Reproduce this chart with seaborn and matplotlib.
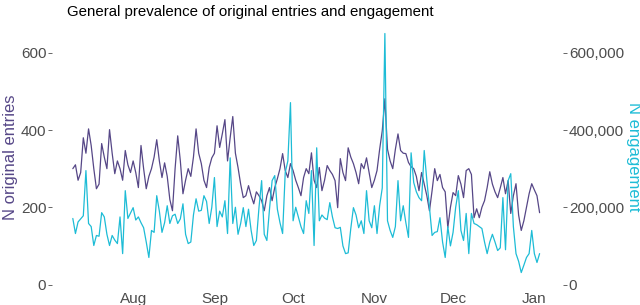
import numpy as np
import pandas as pd
import seaborn as sns
import matplotlib.pyplot as plt
import matplotlib.dates as mdates
from matplotlib.ticker import FuncFormatter

# daily values, 9 Jul to 3 Jan
start_date = "2021-07-09"

original_entries = [
    300, 310, 270, 290, 380, 340, 403, 360, 300, 248, 260, 365, 330, 300, 401, 340,
    287, 320, 300, 270, 347, 310, 290, 320, 290, 251, 360, 300, 248, 280, 300, 330,
    375, 320, 277, 315, 280, 220, 191, 300, 385, 320, 235, 270, 300, 280, 330, 403,
    340, 313, 270, 251, 303, 328, 340, 411, 355, 390, 427, 320, 380, 435, 340, 303,
    260, 225, 230, 256, 230, 209, 240, 230, 217, 191, 230, 251, 217, 251, 274, 300,
    339, 295, 277, 313, 295, 270, 251, 230, 277, 300, 287, 341, 270, 251, 303, 243,
    270, 308, 295, 285, 269, 199, 326, 290, 269, 354, 330, 313, 290, 261, 313, 300,
    328, 290, 251, 270, 295, 350, 398, 481, 350, 320, 300, 350, 390, 347, 340, 339,
    316, 305, 300, 280, 243, 290, 260, 230, 191, 243, 300, 269, 285, 251, 240, 147,
    200, 238, 230, 282, 260, 225, 295, 300, 285, 173, 196, 173, 200, 217, 251, 292,
    260, 240, 225, 250, 277, 235, 269, 184, 230, 261, 180, 140, 165, 200, 235, 261,
    245, 230, 186,
]

engagement = [
    171, 132, 162, 170, 178, 295, 158, 150, 101, 127, 125, 186, 175, 130, 101, 127,
    115, 106, 175, 80, 243, 171, 185, 199, 167, 175, 160, 147, 110, 70, 140, 135,
    230, 190, 135, 160, 204, 158, 178, 182, 158, 170, 209, 130, 106, 110, 180, 222,
    190, 192, 230, 215, 158, 200, 277, 150, 190, 175, 217, 132, 328, 158, 200, 130,
    158, 199, 150, 195, 140, 101, 114, 200, 269, 130, 114, 195, 269, 282, 195, 160,
    132, 290, 320, 471, 165, 200, 175, 150, 132, 217, 184, 295, 101, 354, 165, 180,
    172, 168, 212, 175, 147, 145, 148, 100, 80, 82, 145, 199, 180, 147, 165, 132,
    243, 165, 147, 204, 132, 204, 250, 650, 165, 140, 122, 150, 269, 165, 204, 160,
    122, 341, 264, 240, 225, 217, 347, 270, 200, 127, 135, 137, 173, 110, 70, 150,
    100, 135, 200, 243, 140, 114, 184, 80, 184, 158, 155, 150, 145, 110, 80, 110,
    130, 110, 88, 95, 225, 90, 269, 287, 150, 80, 60, 31, 50, 70, 80, 140,
    80, 57, 80,
]
engagement = [v * 1000 for v in engagement]

month_ticks = ["2021-08-01", "2021-09-01", "2021-10-01", "2021-11-01", "2021-12-01", "2022-01-01"]

dates = pd.date_range(start_date, periods=len(original_entries), freq="D")
df = pd.DataFrame({"date": dates, "entries": original_entries, "engagement": engagement})

purple = "#564787"
cyan = "#1DBCD6"
grey = "#4D4D4D"

sns.set_theme(style="white")
plt.rcParams["font.family"] = ["Liberation Sans", "DejaVu Sans"]

fig = plt.figure(figsize=(6.4, 3.05), dpi=100)
ax = fig.add_axes([0.081, 0.052, 0.799, 0.866])
ax2 = ax.twinx()

sns.lineplot(data=df, x="date", y="entries", ax=ax, color=purple, linewidth=0.9)
sns.lineplot(data=df, x="date", y="engagement", ax=ax2, color=cyan, linewidth=0.9)

ax.set_ylim(-12, 672)
ax2.set_ylim(-12000, 672000)
ax.set_yticks([0, 200, 400, 600])
ax2.set_yticks([0, 200000, 400000, 600000])
ax2.yaxis.set_major_formatter(FuncFormatter(lambda v, p: f"{int(v):,}"))

ax.set_xlim(pd.Timestamp("2021-07-01"), pd.Timestamp("2022-01-12"))
ax.set_xticks(pd.to_datetime(month_ticks))
ax.xaxis.set_major_formatter(mdates.DateFormatter("%b"))

for a in (ax, ax2):
    for s in a.spines.values():
        s.set_visible(False)
    a.tick_params(axis="both", length=3, width=0.6, color=grey, labelcolor=grey,
                  labelsize=11, pad=1)
ax.tick_params(axis="x", length=0, pad=2)

ax.set_xlabel("")
ax.set_ylabel("N original entries", color=purple, fontsize=12, labelpad=2)
ax2.set_ylabel("N engagement", color=cyan, fontsize=12, rotation=270, labelpad=12)
fig.text(250 / 640, 1 - 12 / 305, "General prevalence of original entries and engagement",
         ha="center", va="center", fontsize=10.8, color="black")

fig.savefig("out.png", dpi=100)
